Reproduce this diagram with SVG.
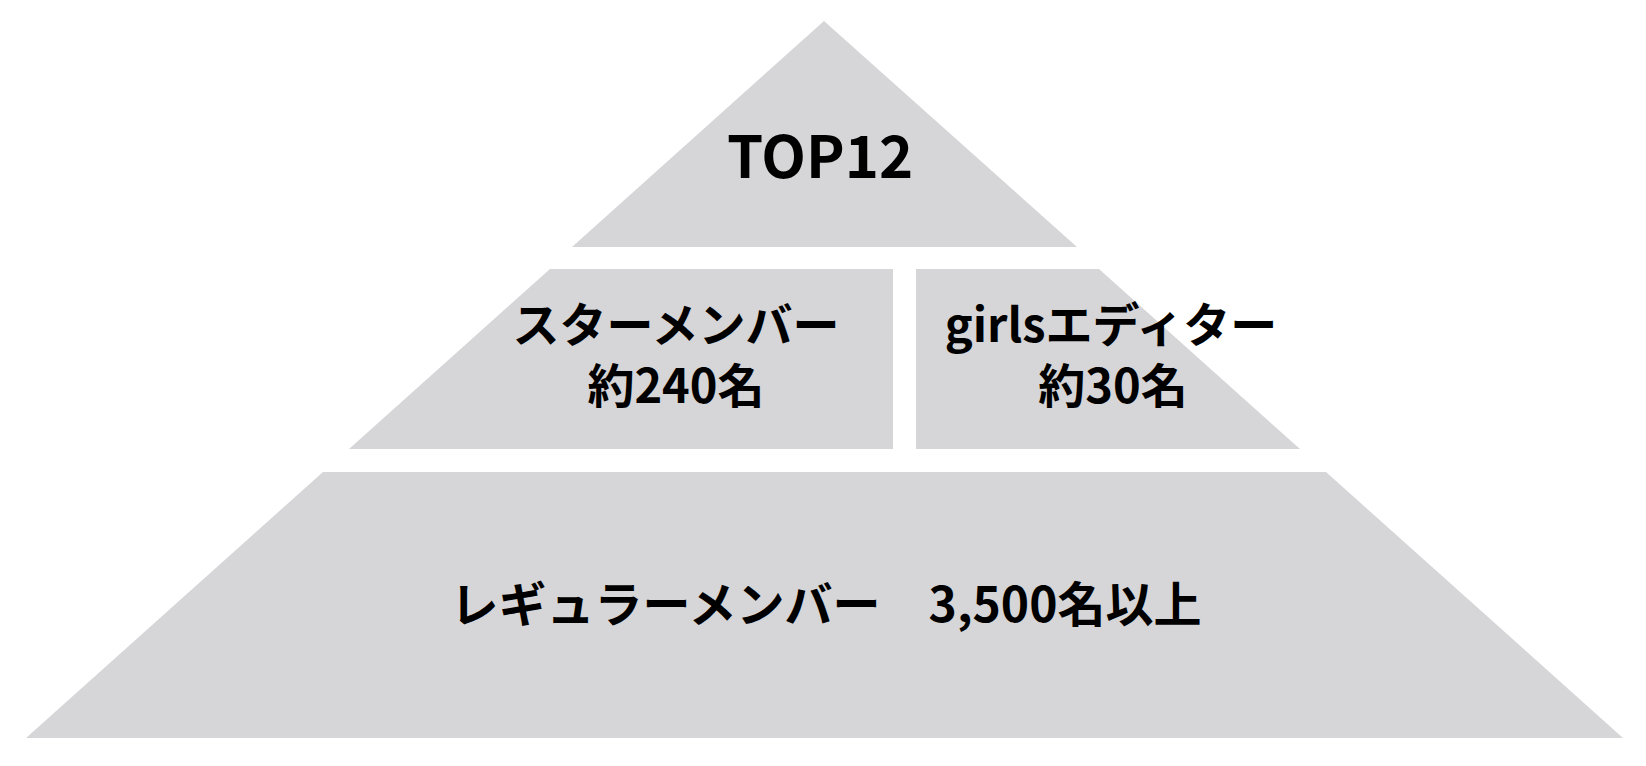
<svg xmlns="http://www.w3.org/2000/svg" width="1646" height="766" viewBox="0 0 1646 766">
<style>
.tier{fill:#d6d5d7;}
.lbl{font-family:"Noto Sans CJK JP","Noto Sans",sans-serif;font-weight:700;fill:#000;text-anchor:middle;}
</style>
<rect width="1646" height="766" fill="#ffffff"/>
<g id="top12">
<polygon class="tier" points="824,21 1077,247 572,247"/>
<text class="lbl" x="820" y="178" font-size="58">TOP12</text>
</g>
<g id="star-member">
<polygon class="tier" points="550,269 893,269 893,449 349,449"/>
<text class="lbl" font-size="47"><tspan x="676" y="342">スターメンバー</tspan><tspan x="676" y="403">約240名</tspan></text>
</g>
<g id="girls-editor">
<polygon class="tier" points="916,269 1099,269 1300,449 916,449"/>
<text class="lbl" font-size="47"><tspan x="1111" y="342">girlsエディター</tspan><tspan x="1113" y="403">約30名</tspan></text>
</g>
<g id="regular-member">
<polygon class="tier" points="323,472 1326,472 1623,738 26,738"/>
<text class="lbl" x="826" y="622" font-size="48">レギュラーメンバー　3,500名以上</text>
</g>
<g id="connectors"></g>
</svg>
